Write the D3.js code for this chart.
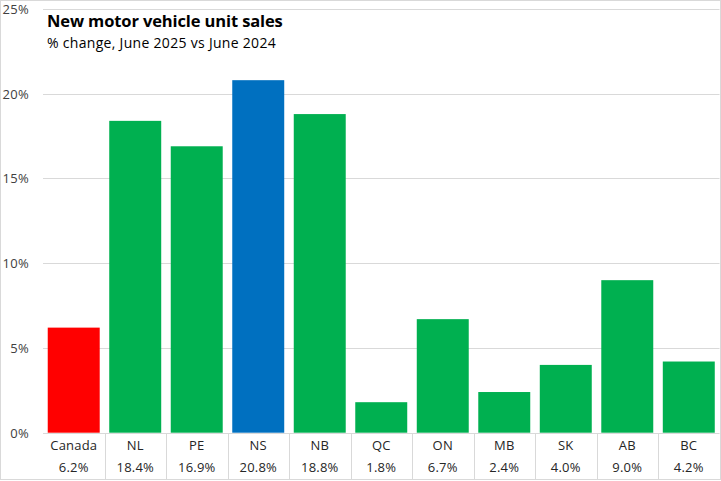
<!DOCTYPE html>
<html><head><meta charset="utf-8">
<script src="https://cdn.jsdelivr.net/npm/d3@7/dist/d3.min.js"></script>
<style>body{margin:0;background:#fff}svg{display:block}</style>
</head><body>
<svg id="c" width="721" height="481"></svg>
<script>
const categories = ["Canada","NL","PE","NS","NB","QC","ON","MB","SK","AB","BC"];
const values = [6.2,18.4,16.9,20.8,18.8,1.8,6.7,2.4,4.0,9.0,4.2];
const colors = ["#ff0000","#00b050","#00b050","#0070c0","#00b050","#00b050","#00b050","#00b050","#00b050","#00b050","#00b050"];
const yTicks = [0,5,10,15,20,25];
const title = "New motor vehicle unit sales";
const subtitle = "% change, June 2025 vs June 2024";

const svg = d3.select("#c");
const font = "'Open Sans', 'Noto Sans', sans-serif";
const x = d3.scaleBand().domain(categories).range([43,719.5]).paddingInner(0.155).paddingOuter(0.077);
const xb = d3.scaleBand().domain(categories).range([43,719.5]);
const y = d3.scaleLinear().domain([0,25]).range([432.7,9]);

// border
svg.append("rect").attr("x",0.5).attr("y",0.5).attr("width",720).attr("height",479).attr("fill","none").attr("stroke","#d9d9d9");

// gridlines
svg.append("g").selectAll("line").data(yTicks).join("line")
  .attr("x1",43).attr("x2",719.5).attr("y1",d=>Math.round(y(d))+0.5).attr("y2",d=>Math.round(y(d))+0.5)
  .attr("stroke","#d9d9d9").attr("stroke-width",1);

// y tick labels
svg.append("g").selectAll("text").data(yTicks).join("text")
  .attr("x",29).attr("y",d=>y(d)+5).attr("text-anchor","end")
  .attr("font-family",font).attr("font-size",13).attr("fill","#404040").attr("letter-spacing",0.3)
  .text(d=>d+"%");

// bars
svg.append("g").selectAll("rect").data(categories).join("rect")
  .attr("x",d=>x(d)).attr("width",x.bandwidth())
  .attr("y",(d,i)=>y(values[i])).attr("height",(d,i)=>y(0)-y(values[i]))
  .attr("fill",(d,i)=>colors[i]);

// table separators
svg.append("g").selectAll("line").data(categories.slice(1)).join("line")
  .attr("x1",d=>Math.round(xb(d))+0.5).attr("x2",d=>Math.round(xb(d))+0.5)
  .attr("y1",433).attr("y2",480).attr("stroke","#d9d9d9");

// category labels
svg.append("g").selectAll("text").data(categories).join("text")
  .attr("x",d=>xb(d)+xb.bandwidth()/2).attr("y",450).attr("text-anchor","middle")
  .attr("font-family",font).attr("font-size",13).attr("fill","#262626").attr("letter-spacing",0.2).text(d=>d);
svg.append("g").selectAll("text").data(categories).join("text")
  .attr("x",d=>xb(d)+xb.bandwidth()/2).attr("y",472).attr("text-anchor","middle")
  .attr("font-family",font).attr("font-size",13).attr("fill","#262626").attr("letter-spacing",0.2).text((d,i)=>values[i].toFixed(1)+"%");

// title
svg.append("rect").attr("x",44).attr("y",10).attr("width",250).attr("height",46).attr("fill","#fff");
svg.append("text").attr("x",47).attr("y",27).attr("font-family",font).attr("font-weight","bold")
  .attr("font-size",16.5).attr("fill","#000").attr("letter-spacing",-0.12).text(title);
svg.append("text").attr("x",47).attr("y",48).attr("font-family",font)
  .attr("font-size",14).attr("fill","#000").attr("letter-spacing",0.3).text(subtitle);
</script>
</body></html>
